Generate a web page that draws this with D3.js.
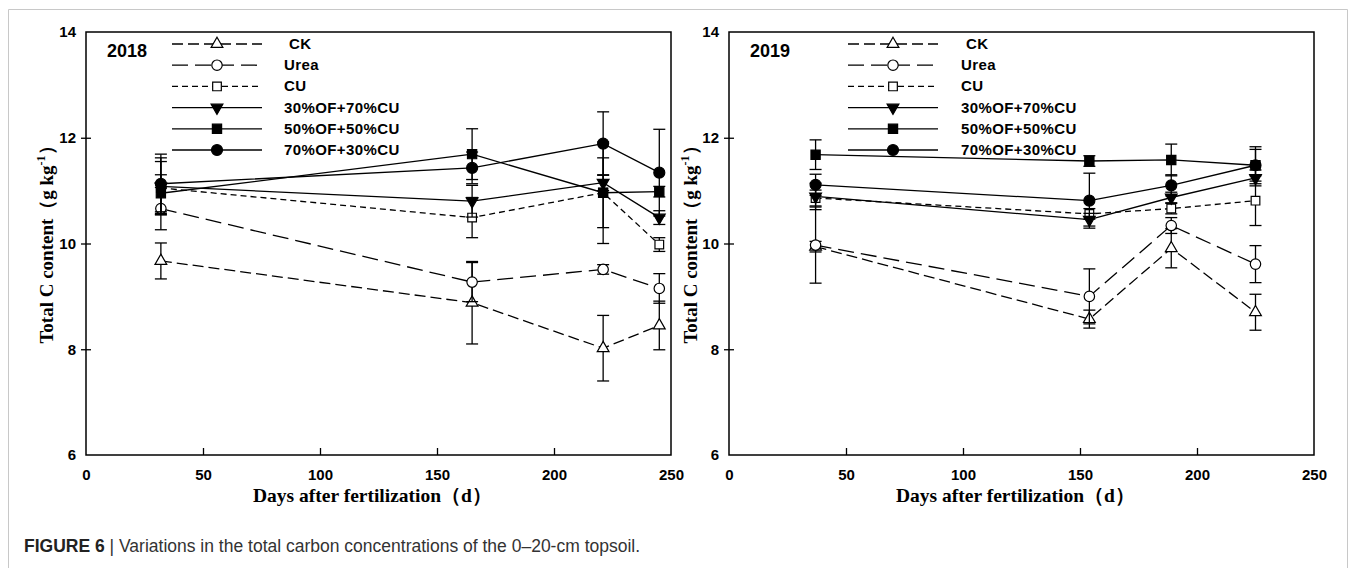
<html>
<head>
<meta charset="utf-8">
<title>Total C content</title>
<script src="https://d3js.org/d3.v7.min.js"></script>
<style type="text/css">
	body { margin: 0; background: #fff; }
	.tick-label { font: bold 15px "Liberation Sans", Arial, sans-serif; }
	.axis-title { font: bold 19.5px "Liberation Serif", "Times New Roman", serif; }
	.legend-label { font: bold 15px "Liberation Sans", Arial, sans-serif; letter-spacing: 0.4px; }
	.year { font: bold 18px "Liberation Sans", Arial, sans-serif; }
</style>
</head>
<body>
<div id="chart"></div>
<script type="text/javascript">

// ---- data ----
const seriesNames = ["CK", "Urea", "CU", "30%OF+70%CU", "50%OF+50%CU", "70%OF+30%CU"];
const xTicks = [0, 50, 100, 150, 200, 250];
const yTicks = [6, 8, 10, 12, 14];

const days2018 = [32, 165, 221, 245];
const ck2018    = [9.67, 8.88, 8.02, 8.45];
const urea2018  = [10.66, 9.27, 9.51, 9.15];
const cu2018    = [11.05, 10.49, 10.96, 9.98];
const of30_2018 = [11.08, 10.80, 11.15, 10.49];
const of50_2018 = [10.95, 11.69, 10.96, 10.98];
const of70_2018 = [11.13, 11.43, 11.89, 11.34];
const ck2018Err    = [0.34, 0.78, 0.62, 0.46];
const urea2018Err  = [0.40, 0.37, 0.09, 0.28];
const cu2018Err    = [0.50, 0.38, 0.66, 0.13];
const of30_2018Err = [0.54, 0.30, 0.15, 0.13];
const of50_2018Err = [0.35, 0.48, 0.96, 0.10];
const of70_2018Err = [0.56, 0.30, 0.60, 0.82];

const days2019 = [37, 154, 189, 225];
const ck2019    = [9.94, 8.57, 9.91, 8.70];
const urea2019  = [9.97, 9.00, 10.34, 9.61];
const cu2019    = [10.86, 10.56, 10.66, 10.81];
const of30_2019 = [10.89, 10.45, 10.87, 11.24];
const of50_2019 = [11.68, 11.56, 11.58, 11.48];
const of70_2019 = [11.11, 10.81, 11.10, 11.48];
const ck2019Err    = [0.10, 0.17, 0.37, 0.34];
const urea2019Err  = [0.72, 0.52, 0.15, 0.35];
const cu2019Err    = [0.15, 0.10, 0.10, 0.47];
const of30_2019Err = [0.25, 0.12, 0.10, 0.15];
const of50_2019Err = [0.28, 0.10, 0.30, 0.35];
const of70_2019Err = [0.20, 0.52, 0.20, 0.30];

// ---- styles ----
const dashes  = ["11,5", "16,7", "6,4", null, null, null];
const symbols = [d3.symbolTriangle, d3.symbolCircle, d3.symbolSquare, d3.symbolTriangle, d3.symbolSquare, d3.symbolCircle];
const sizes   = [60, 85, 75, 60, 85, 95];
const rotate  = [0, 0, 0, 180, 0, 0];
const filled  = [false, false, false, true, true, true];

const width = 1356, height = 568;

const svg = d3.select("#chart").append("svg")
	.attr("width", width)
	.attr("height", height);

// figure frame
svg.append("path")
	.attr("d", "M8.5,575 L8.5,9.5 L1347.5,9.5 L1347.5,575")
	.attr("fill", "none")
	.attr("stroke", "#c8c8c8")
	.attr("stroke-width", 1);

const panels = [
	{ year: "2018", left: 86, right: 671, legendX: 172, labelX: 284, titleX: 53,
	  days: days2018,
	  values: [ck2018, urea2018, cu2018, of30_2018, of50_2018, of70_2018],
	  errs: [ck2018Err, urea2018Err, cu2018Err, of30_2018Err, of50_2018Err, of70_2018Err] },
	{ year: "2019", left: 729, right: 1314, legendX: 848, labelX: 961, titleX: 697,
	  days: days2019,
	  values: [ck2019, urea2019, cu2019, of30_2019, of50_2019, of70_2019],
	  errs: [ck2019Err, urea2019Err, cu2019Err, of30_2019Err, of50_2019Err, of70_2019Err] }
];

const plotTop = 32, plotBottom = 455;

panels.forEach(function(p) {
	const x = d3.scaleLinear().domain([0, 250]).range([p.left, p.right]);
	const y = d3.scaleLinear().domain([6, 14]).range([plotBottom, plotTop]);
	const g = svg.append("g");

	// box
	g.append("rect")
		.attr("x", p.left).attr("y", plotTop)
		.attr("width", p.right - p.left).attr("height", plotBottom - plotTop)
		.attr("fill", "none").attr("stroke", "#000").attr("stroke-width", 1.5);

	// x axis
	const xa = g.append("g")
		.attr("transform", "translate(0," + plotBottom + ")")
		.call(d3.axisBottom(x).tickValues(xTicks).tickSize(-7).tickPadding(14));
	xa.select(".domain").remove();
	xa.selectAll("line").attr("stroke-width", 1.3)
		.filter(function(d) { return d === 0 || d === 250; }).remove();
	xa.selectAll("text").attr("class", "tick-label").attr("fill", "#000");

	// y axis
	const ya = g.append("g")
		.attr("transform", "translate(" + p.left + ",0)")
		.call(d3.axisLeft(y).tickValues(yTicks).tickSize(5).tickPadding(5));
	ya.select(".domain").remove();
	ya.selectAll("line").attr("x2", -5).attr("x1", 5).attr("stroke-width", 1.3)
		.filter(function(d) { return d === 6 || d === 14; }).remove();
	ya.selectAll("text").attr("class", "tick-label").attr("fill", "#000");

	// axis titles
	g.append("text")
		.attr("class", "axis-title")
		.attr("x", (p.left + p.right) / 2 - 6)
		.attr("y", 502)
		.attr("text-anchor", "middle")
		.text("Days after fertilization（d）");

	const yt = g.append("text")
		.attr("class", "axis-title")
		.attr("transform", "translate(" + p.titleX + "," + 240 + ") rotate(-90)")
		.attr("text-anchor", "middle")
		.style("font-size", "19px");
	yt.append("tspan").text("Total C content（g kg");
	yt.append("tspan").attr("dy", -8).style("font-size", "12px").text("-1");
	yt.append("tspan").attr("dy", 8).text("）");

	// year label
	g.append("text")
		.attr("class", "year")
		.attr("x", p.left + 21)
		.attr("y", 57)
		.text(p.year);

	// series
	p.values.forEach(function(vals, i) {
		const pts = vals.map(function(v, j) { return { x: p.days[j], y: v, e: p.errs[i][j] }; });

		// error bars
		const eb = g.append("g").attr("stroke", "#000").attr("stroke-width", 1.3);
		pts.forEach(function(d) {
			eb.append("line")
				.attr("x1", x(d.x)).attr("x2", x(d.x))
				.attr("y1", y(d.y - d.e)).attr("y2", y(d.y + d.e));
			[d.y - d.e, d.y + d.e].forEach(function(c) {
				eb.append("line")
					.attr("x1", x(d.x) - 6).attr("x2", x(d.x) + 6)
					.attr("y1", y(c)).attr("y2", y(c));
			});
		});

		// line
		g.append("path")
			.datum(pts)
			.attr("fill", "none")
			.attr("stroke", "#000")
			.attr("stroke-width", 1.3)
			.attr("stroke-dasharray", dashes[i])
			.attr("d", d3.line().x(function(d) { return x(d.x); }).y(function(d) { return y(d.y); }));

		// markers
		g.selectAll(null)
			.data(pts)
			.enter().append("path")
			.attr("d", d3.symbol().type(symbols[i]).size(sizes[i]))
			.attr("transform", function(d) {
				return "translate(" + x(d.x) + "," + y(d.y) + ") rotate(" + rotate[i] + ")";
			})
			.attr("fill", filled[i] ? "#000" : "#fff")
			.attr("stroke", "#000")
			.attr("stroke-width", 1.2);

		// legend
		const ly = 44 + i * 21.2;
		g.append("line")
			.attr("x1", p.legendX).attr("x2", p.legendX + 90)
			.attr("y1", ly).attr("y2", ly)
			.attr("stroke", "#000").attr("stroke-width", 1.3)
			.attr("stroke-dasharray", dashes[i]);
		g.append("path")
			.attr("d", d3.symbol().type(symbols[i]).size(sizes[i]))
			.attr("transform", "translate(" + (p.legendX + 45) + "," + ly + ") rotate(" + rotate[i] + ")")
			.attr("fill", filled[i] ? "#000" : "#fff")
			.attr("stroke", "#000")
			.attr("stroke-width", 1.2);
		g.append("text")
			.attr("class", "legend-label")
			.attr("x", p.labelX + (i === 0 ? 5 : 0))
			.attr("y", ly + 5)
			.text(seriesNames[i]);
	});
});

// caption
const cap = svg.append("text")
	.attr("x", 24)
	.attr("y", 552)
	.style("font", "17.5px 'Liberation Sans', Arial, sans-serif")
	.attr("fill", "#333");
cap.append("tspan").style("font-weight", "bold").attr("fill", "#222").text("FIGURE 6");
cap.append("tspan").text("  |  Variations in the total carbon concentrations of the 0–20-cm topsoil.");

</script>
</body>
</html>
